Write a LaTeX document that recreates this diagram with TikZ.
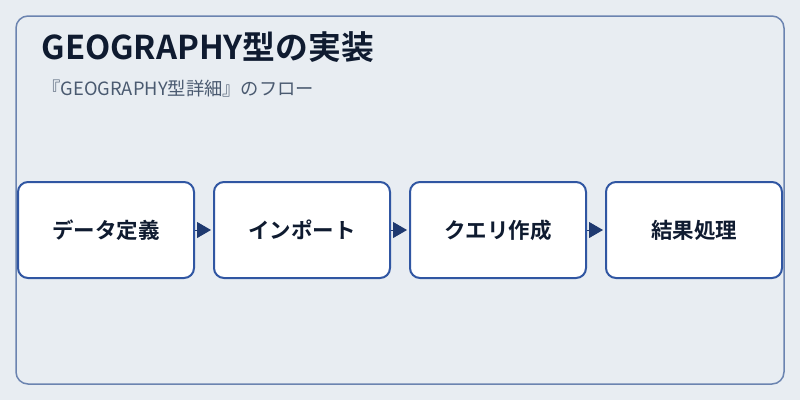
\documentclass[tikz,border=0pt]{standalone}
\usepackage{fontspec}
\setmainfont{Noto Sans CJK JP}
\newfontfamily\jpbold{Noto Sans CJK JP Bold}
\usetikzlibrary{positioning, arrows.meta}

\definecolor{pagebg}{HTML}{E8EDF2}
\definecolor{framecol}{HTML}{6B84B0}
\definecolor{boxcol}{HTML}{3056A2}
\definecolor{arrowcol}{HTML}{1F3A70}
\definecolor{titlecol}{HTML}{0F1B30}
\definecolor{subcol}{HTML}{4A5A70}

\tikzset{
  stepbox/.style={draw=boxcol, line width=2pt, fill=white, rounded corners=10pt,
    minimum width=176pt, minimum height=96pt, font=\jpbold\fontsize{21.5}{21.5}\selectfont,
    text=titlecol},
  flow/.style={draw=arrowcol, line width=1pt, shorten >=2pt,
    -{Triangle[length=14pt, width=16pt]}, arrowcol}
}

\begin{document}
\begin{tikzpicture}[x=1pt, y=-1pt]
  \fill[pagebg] (0,0) rectangle (800,400);
  \useasboundingbox (0,0) rectangle (800,400);
  \draw[framecol, line width=1.5pt, rounded corners=12pt] (16,16) rectangle (784,384);

  \node[anchor=west, text=titlecol, font=\jpbold\fontsize{32.8}{32.8}\selectfont] (title) at (38,47) {GEOGRAPHY型の実装};
  \node[anchor=west, text=subcol, font=\fontsize{18.3}{18.3}\selectfont] (sub) at (39,89) {『GEOGRAPHY型詳細』のフロー};

  \node[stepbox] (define) at (106,230) {データ定義};
  \node[stepbox, right=18pt of define] (import) {インポート};
  \node[stepbox, right=18pt of import] (query) {クエリ作成};
  \node[stepbox, right=18pt of query] (result) {結果処理};

  \draw[flow] (define) -- (import);
  \draw[flow] (import) -- (query);
  \draw[flow] (query) -- (result);
\end{tikzpicture}
\end{document}
